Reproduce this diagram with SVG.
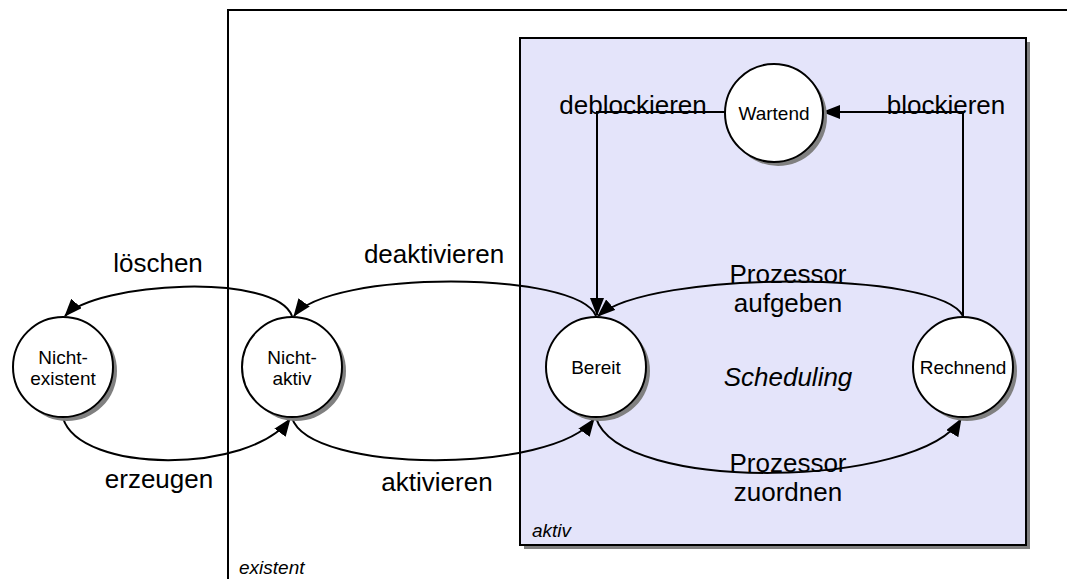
<svg xmlns="http://www.w3.org/2000/svg" width="1067" height="579" viewBox="0 0 1067 579">
  <defs>
    <marker id="arrow" markerWidth="18" markerHeight="14" refX="17" refY="7" orient="auto" markerUnits="userSpaceOnUse">
      <path d="M0,0 L18,7 L0,14 Z" fill="#000"/>
    </marker>
  </defs>
  <style>
    .frame { fill: none; stroke: #000; stroke-width: 2; }
    .region { fill: #e4e4fa; stroke: #000; stroke-width: 2; }
    .shadow { fill: #808080; }
    .state { fill: #fff; stroke: #000; stroke-width: 2; }
    .edge { fill: none; stroke: #000; stroke-width: 2; marker-end: url(#arrow); }
    text { font-family: "Liberation Sans", Arial, sans-serif; fill: #000; }
    .node-label { font-size: 19px; text-anchor: middle; }
    .edge-label { font-size: 26px; text-anchor: middle; }
    .area-label { font-size: 19px; font-style: italic; }
  </style>

  <!-- existent region: open frame reaching past the right and bottom edges -->
  <g id="existent">
    <path class="frame" d="M228,579 V10 H1067"/>
    <text class="area-label" x="239" y="574">existent</text>
  </g>

  <!-- aktiv region with drop shadow -->
  <g id="aktiv">
    <rect class="shadow" x="524" y="42" width="506" height="507"/>
    <rect class="region" x="520" y="38" width="506" height="507"/>
    <text class="area-label" x="532" y="537">aktiv</text>
    <text class="edge-label" x="788" y="386" font-style="italic">Scheduling</text>
  </g>

  <!-- transitions -->
  <g id="connectors">
    <path class="edge" d="M292,316 C276,272 96,282 65,316"/>
    <path class="edge" d="M596,316 C578,270 328,270 294,316"/>
    <path class="edge" d="M63,418 C80,474 250,474 290,419"/>
    <path class="edge" d="M292,418 C310,474 554,474 594,419"/>
    <path class="edge" d="M596,418 C620,494 920,488 961,419"/>
    <path class="edge" d="M963,316 C940,270 650,270 598,316"/>
    <path class="edge" d="M725,112 H597 V315"/>
    <path class="edge" d="M963,316 V112 H823"/>
  </g>

  <!-- transition labels -->
  <g id="labels">
    <text class="edge-label" x="158" y="272">löschen</text>
    <text class="edge-label" x="159" y="488">erzeugen</text>
    <text class="edge-label" x="434" y="263">deaktivieren</text>
    <text class="edge-label" x="437" y="491">aktivieren</text>
    <text class="edge-label" x="633" y="114">deblockieren</text>
    <text class="edge-label" x="946" y="114">blockieren</text>
    <text class="edge-label" x="788" y="283">Prozessor</text>
    <text class="edge-label" x="788" y="312">aufgeben</text>
    <text class="edge-label" x="788" y="472">Prozessor</text>
    <text class="edge-label" x="788" y="501">zuordnen</text>
  </g>

  <!-- states -->
  <g id="nicht-existent">
    <circle class="shadow" cx="67" cy="371" r="50"/>
    <circle class="state" cx="63" cy="367" r="50"/>
    <text class="node-label" x="63" y="364">Nicht-</text>
    <text class="node-label" x="63" y="385">existent</text>
  </g>
  <g id="nicht-aktiv">
    <circle class="shadow" cx="296" cy="371" r="50"/>
    <circle class="state" cx="292" cy="367" r="50"/>
    <text class="node-label" x="292" y="364">Nicht-</text>
    <text class="node-label" x="292" y="385">aktiv</text>
  </g>
  <g id="bereit">
    <circle class="shadow" cx="600" cy="371" r="50"/>
    <circle class="state" cx="596" cy="367" r="50"/>
    <text class="node-label" x="596" y="374">Bereit</text>
  </g>
  <g id="rechnend">
    <circle class="shadow" cx="967" cy="371" r="50"/>
    <circle class="state" cx="963" cy="367" r="50"/>
    <text class="node-label" x="963" y="374">Rechnend</text>
  </g>
  <g id="wartend">
    <circle class="shadow" cx="778" cy="117" r="49"/>
    <circle class="state" cx="774" cy="113" r="49"/>
    <text class="node-label" x="774" y="120">Wartend</text>
  </g>
</svg>
